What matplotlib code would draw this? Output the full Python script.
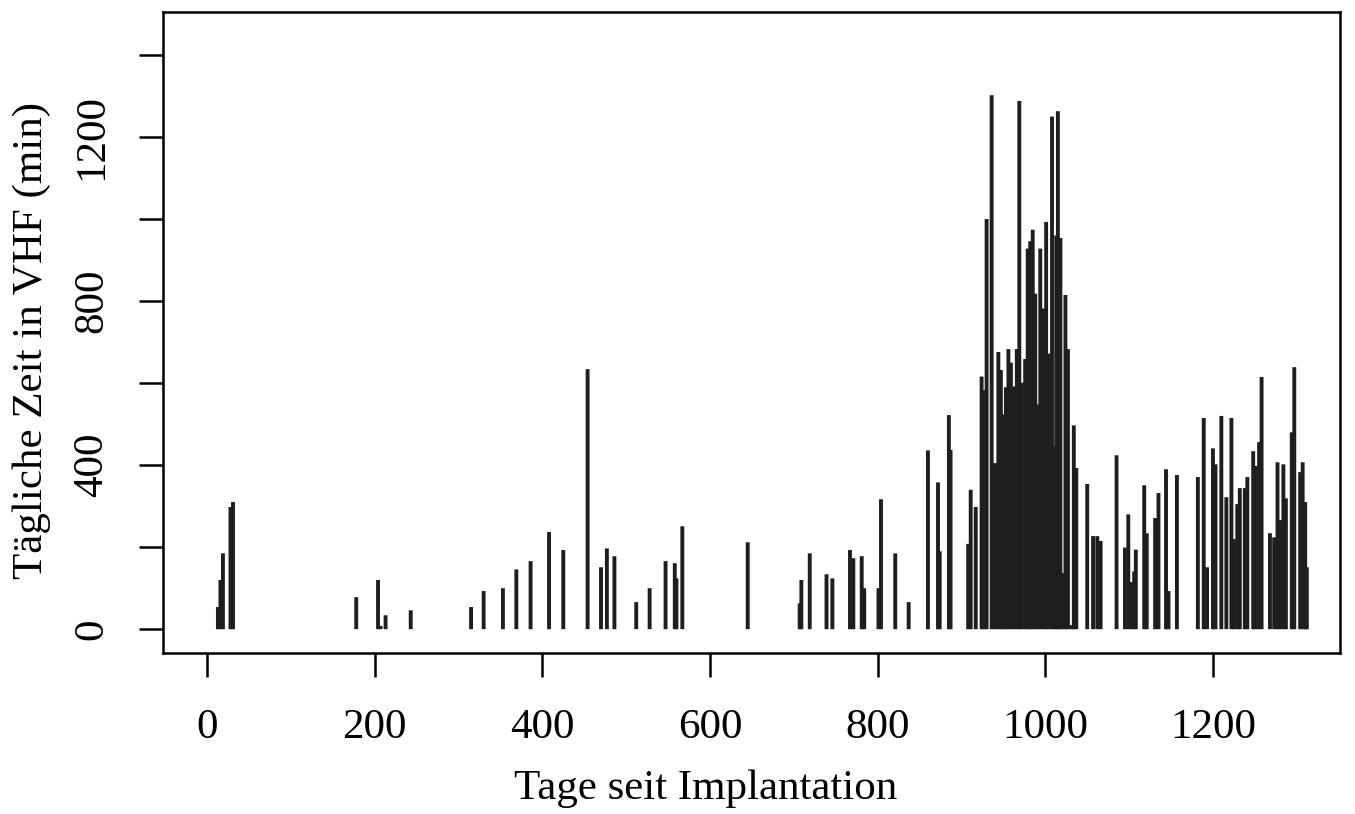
import numpy as np
import matplotlib.pyplot as plt

plt.rcParams['font.family'] = ['Liberation Serif', 'DejaVu Serif']

# days since implantation and daily minutes in VHF
days = [13, 16, 19, 28, 31,
        178, 204, 207, 213, 243,
        315, 330, 353, 369, 386, 408, 425, 454, 470, 477, 486,
        512, 528, 547, 558, 560, 567, 645,
        707, 709, 719, 739, 746, 767, 771, 781, 784, 801, 804, 821, 837,
        860, 872, 874, 885, 887, 908, 911, 917,
        924, 927, 930, 936, 940, 944, 947, 950, 953, 956, 959, 962,
        966, 969, 972, 976, 979, 982, 985, 988, 992, 994, 998,
        1001, 1004, 1008, 1010, 1013, 1015, 1018, 1021, 1024, 1027,
        1031, 1034, 1037,
        1050, 1057, 1062, 1066, 1085, 1095, 1099, 1103, 1106, 1108,
        1118, 1121, 1131, 1135, 1144, 1147, 1157,
        1182, 1189, 1193, 1200, 1203, 1210, 1216, 1222, 1225, 1229,
        1232, 1238, 1241, 1248, 1251, 1255, 1258, 1268, 1273, 1277,
        1280, 1284, 1287, 1294, 1297, 1304, 1307, 1310, 1312]
minutes = [54, 120, 185, 298, 310,
           78, 120, 8, 34, 46,
           54, 93, 100, 146, 166, 237, 193, 634, 151, 197, 178,
           66, 100, 166, 161, 124, 251, 212,
           63, 120, 185, 134, 124, 193, 173, 178, 100, 100, 317, 185, 66,
           436, 358, 190, 522, 437, 208, 340, 298,
           616, 583, 1000, 1302, 405, 676, 632, 524, 590, 683, 650, 592,
           683, 1288, 601, 659, 928, 946, 974, 818, 548, 928, 782,
           993, 672, 1250, 446, 960, 1263, 954, 137, 815, 683,
           10, 497, 393,
           354, 227, 227, 215, 424, 199, 280, 115, 141, 194,
           351, 234, 271, 332, 390, 93, 376,
           371, 515, 151, 441, 402, 520, 322, 515, 220, 305,
           344, 344, 371, 434, 398, 456, 615, 234, 224, 407,
           266, 402, 319, 480, 639, 383, 407, 310, 151]

xticks = [0, 200, 400, 600, 800, 1000, 1200]
yticks = [0, 200, 400, 600, 800, 1000, 1200, 1400]
ylabels = ['0', '', '400', '', '800', '', '1200', '']

fig = plt.figure(figsize=(13.55, 8.14), dpi=100)
ax = fig.add_axes([0.1203, 0.1978, 0.8686, 0.7875])

ax.vlines(days, 0, minutes, colors='#1e1e1e', linewidth=2.8, snap=False)

ax.set_xlim(-52.5, 1351.5)
ax.set_ylim(-58, 1505)
ax.set_xticks(xticks)
ax.set_xticklabels([str(t) for t in xticks])
ax.set_yticks(yticks)
ax.set_yticklabels(ylabels, rotation=90, va='center')

for s in ax.spines.values():
    s.set_linewidth(1.8)
ax.tick_params(axis='both', length=17, width=1.8, labelsize=31, direction='out')
ax.tick_params(axis='x', pad=23)
ax.tick_params(axis='y', pad=20)

ax.set_xlabel('Tage seit Implantation', fontsize=31, labelpad=16, x=0.461)
ax.set_ylabel('Tägliche Zeit in VHF (min)', fontsize=31, labelpad=16, y=0.488)

fig.savefig('out.png', dpi=100)
